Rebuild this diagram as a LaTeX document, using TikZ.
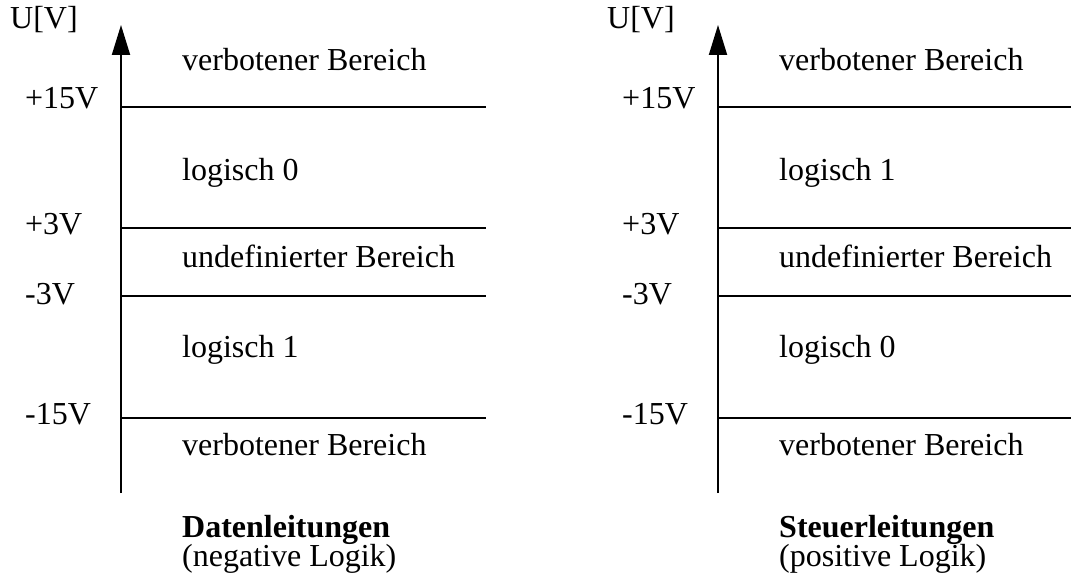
\documentclass[tikz,border=0pt]{standalone}
\usepackage{fontspec}
\setmainfont{Liberation Serif}
\usetikzlibrary{arrows.meta}
\tikzset{
  axisline/.style={line width=2pt, -{Triangle[length=30pt,width=18pt]}},
  level/.style={line width=2pt},
  lbl/.style={anchor=base west, inner sep=0pt, font=\fontsize{32}{38}\selectfont},
  ttl/.style={anchor=base west, inner sep=0pt, text depth=0pt, font=\fontsize{32}{38}\selectfont\bfseries},
  sub/.style={lbl, text height=20pt},
}
\begin{document}
\begin{tikzpicture}[x=1pt, y=-1pt]
\useasboundingbox (0,0) rectangle (1071,580);
\foreach \dx/\side/\top/\bot/\name/\subtext [count=\i] in
  {0/486/logisch 0/logisch 1/Datenleitungen/(negative Logik),
   597/1071/logisch 1/logisch 0/Steuerleitungen/(positive Logik)}{
  \begin{scope}[xshift=\dx pt]
    \coordinate (b\i) at (121,493);
    \coordinate (t\i) at (121,25);
    \draw[axisline] (b\i) -- (t\i);
    \foreach \y/\k in {107/a,228/b,296/c,418/d}{
      \coordinate (l\i\k) at (121,\y);
      \coordinate (r\i\k) at (\side-\dx,\y);
      \draw[level] (l\i\k) -- (r\i\k);
    }
    \node[lbl] (u\i) at (10,29) {U[V]};
    \node[lbl] (p15\i) at (25,109) {+15V};
    \node[lbl] (p3\i) at (25,235) {+3V};
    \node[lbl] (m3\i) at (25,304) {-3V};
    \node[lbl] (m15\i) at (25,424) {-15V};
    \node[lbl] (v1\i) at (182,71) {verbotener Bereich};
    \node[lbl] (h\i) at (182,181) {\top};
    \node[lbl] (n\i) at (182,267) {undefinierter Bereich};
    \node[lbl] (g\i) at (182,357) {\bot};
    \node[lbl] (v2\i) at (182,455) {verbotener Bereich};
    \node[ttl] (d\i) at (182,537) {\name};
    \node[sub] (s\i) at (182,566) {\subtext};
  \end{scope}
}
\end{tikzpicture}
\end{document}
